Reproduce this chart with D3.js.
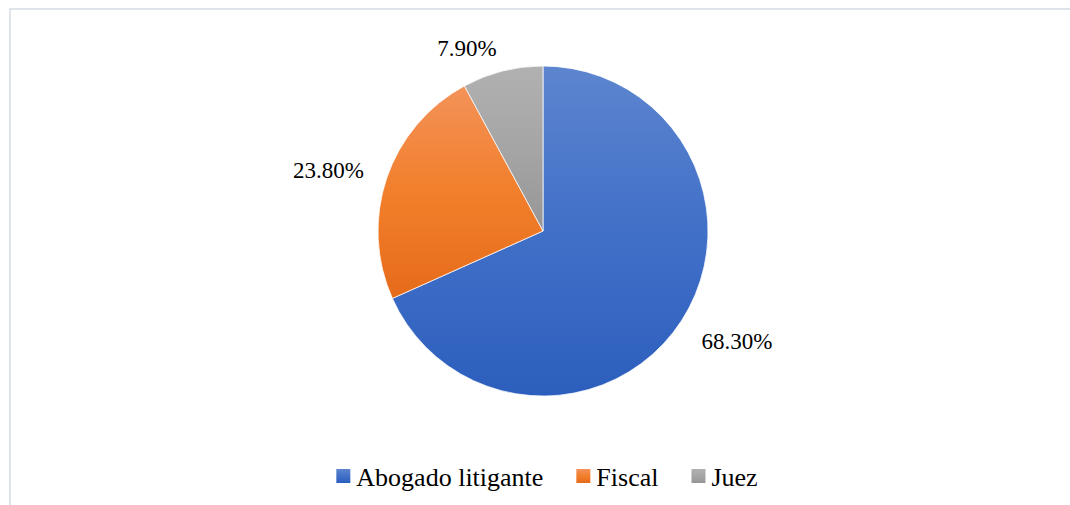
<!DOCTYPE html>
<html>
<head>
<meta charset="utf-8">
<script src="https://cdn.jsdelivr.net/npm/d3@7"></script>
</head>
<body style="margin:0">
<div id="chart"></div>
<script>
// data
const categories = ["Abogado litigante", "Fiscal", "Juez"];
const values = [68.3, 23.8, 7.9];
const labels = ["68.30%", "23.80%", "7.90%"];

// office-like gradient stops (top, middle, bottom) for each slice
const gradStops = [
    ["#5d85cf", "#4170c8", "#2c5ebd"],
    ["#f39259", "#f27f2b", "#e56b1a"],
    ["#b1b1b1", "#a5a5a5", "#969696"]
];

const width = 1070, height = 505;
const cx = 543, cy = 231, radius = 165;

const svg = d3.select("#chart")
    .append("svg")
    .attr("width", width)
    .attr("height", height)
    .attr("font-family", "Liberation Serif")
    .style("display", "block");

// chart area frame (only top and left visible)
svg.append("path")
    .attr("d", "M10,505 L10,9 L1070,9")
    .style("fill", "none")
    .style("stroke", "#dfe4ea")
    .style("stroke-width", 2);

const defs = svg.append("defs");
gradStops.forEach(function(stops, i) {
    const g = defs.append("linearGradient")
        .attr("id", "grad" + i)
        .attr("x1", 0).attr("y1", 0)
        .attr("x2", 0).attr("y2", 1);
    g.append("stop").attr("offset", "0%").attr("stop-color", stops[0]);
    g.append("stop").attr("offset", "50%").attr("stop-color", stops[1]);
    g.append("stop").attr("offset", "100%").attr("stop-color", stops[2]);
});

const pieData = d3.pie().sort(null).value(d => d)(values);
const arc = d3.arc().innerRadius(0).outerRadius(radius);

const g = svg.append("g")
    .attr("transform", "translate(" + cx + "," + cy + ")");

g.selectAll(".slice")
    .data(pieData)
    .enter()
    .append("path")
    .attr("class", "slice")
    .attr("d", arc)
    .style("fill", (d, i) => "url(#grad" + i + ")")
    .style("stroke", "#fff")
    .style("stroke-width", 0.75);

// labels placed just outside the edge, on the side the slice faces
const labelR = radius + 10;
function mid(d) { return (d.startAngle + d.endAngle) / 2; }
g.selectAll(".label")
    .data(pieData)
    .enter()
    .append("text")
    .attr("class", "label")
    .attr("x", d => Math.sin(mid(d)) * (labelR + 14))
    .attr("y", function(d) {
        const c = Math.cos(mid(d));
        // push down a bit more for labels below the centre
        return -c * (labelR + 14) + (c < 0 ? -c * 14 : 0);
    })
    .attr("dy", "0.35em")
    .attr("text-anchor", d => Math.sin(mid(d)) >= 0 ? "start" : "end")
    .attr("font-family", "Liberation Serif")
    .attr("font-size", 23)
    .attr("fill", "#000")
    .text((d, i) => labels[i]);

// legend
const gap = 33;
const legend = svg.append("g");
let lx = 0;
categories.forEach(function(c, i) {
    const item = legend.append("g").attr("transform", "translate(" + lx + ",0)");
    item.append("rect")
        .attr("x", 0)
        .attr("y", -7)
        .attr("width", 14)
        .attr("height", 14)
        .style("fill", "url(#grad" + i + ")");
    const t = item.append("text")
        .attr("x", 20)
        .attr("y", 10)
        .attr("font-family", "Liberation Serif")
        .attr("font-size", 26)
        .attr("fill", "#000")
        .text(c);
    lx += 20 + t.node().getComputedTextLength() + gap;
});
const legendW = lx - gap;
legend.attr("transform", "translate(" + (547 - legendW / 2) + ",476)");
</script>
</body>
</html>
